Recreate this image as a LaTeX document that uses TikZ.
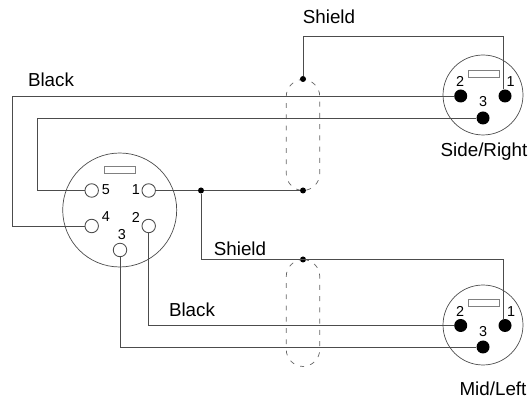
\documentclass[tikz,border=0pt]{standalone}
\usepackage{fontspec}
\setmainfont{Liberation Sans}
\usepackage{tikz}

\tikzset{
	wire/.style={line width=0.5pt, black!70},
	shell/.style={circle, draw=black!70, line width=0.4pt, inner sep=0pt, minimum size=#1},
	key/.style={rectangle, draw=black!50, line width=0.5pt, inner sep=0pt, minimum width=0.62cm, minimum height=0.14cm},
	openpin/.style={circle, draw=black!70, line width=0.5pt, inner sep=0pt, minimum size=0.27cm},
	solidpin/.style={circle, fill=black, inner sep=0pt, minimum size=0.26cm},
	solder/.style={circle, fill=black, inner sep=0pt, minimum size=0.12cm},
	screen/.style={rectangle, rounded corners=0.34cm, draw=black!60, line width=0.4pt, dash pattern=on 2.8pt off 3.6pt, inner sep=0pt, minimum width=0.67cm, minimum height=#1},
	pinlabel/.style={inner sep=0pt, font=\fontsize{8.2}{9}\selectfont},
	caption/.style={inner sep=0pt, font=\fontsize{10.7}{12}\selectfont}
}

\begin{document}
\begin{tikzpicture}[x=0.02cm, y=-0.02cm]
	\useasboundingbox (0, 0) rectangle (530, 404);

	% five pin plug
	\node [shell=2.28cm] (plug) at (119.7, 210) {};
	\node [key] (plugkey) at (119.5, 169.5) {};
	\node [openpin] (pfive) at (91.7, 190.5) {};
	\node [openpin] (pone) at (148.7, 190.5) {};
	\node [openpin] (pfour) at (91.7, 226) {};
	\node [openpin] (ptwo) at (148.7, 226) {};
	\node [openpin] (pthree) at (120, 250) {};
	\node [pinlabel] (lfive) at (106, 190) {5};
	\node [pinlabel] (lone) at (136, 190) {1};
	\node [pinlabel] (lfour) at (106, 217) {4};
	\node [pinlabel] (ltwo) at (136, 217) {2};
	\node [pinlabel] (lthree) at (122, 235) {3};

	% side/right xlr
	\node [shell=1.6cm] (right) at (483, 95) {};
	\node [key] (rightkey) at (483.5, 73.5) {};
	\node [solidpin] (rone) at (505, 96) {};
	\node [solidpin] (rtwo) at (460.7, 96) {};
	\node [solidpin] (rthree) at (483, 118) {};
	\node [pinlabel] (lrone) at (510.5, 82) {1};
	\node [pinlabel] (lrtwo) at (460, 81) {2};
	\node [pinlabel] (lrthree) at (483, 102) {3};

	% mid/left xlr
	\node [shell=1.6cm] (left) at (483, 325) {};
	\node [key] (leftkey) at (483.5, 303) {};
	\node [solidpin] (mone) at (505, 325.5) {};
	\node [solidpin] (mtwo) at (460.7, 325.5) {};
	\node [solidpin] (mthree) at (483, 347) {};
	\node [pinlabel] (lmone) at (511, 312) {1};
	\node [pinlabel] (lmtwo) at (460, 311) {2};
	\node [pinlabel] (lmthree) at (483, 332) {3};

	% cable screens
	\node [screen=2.22cm] (upper) at (303, 135) {};
	\node [screen=2.14cm] (lower) at (303, 313) {};
	\node [solder] (utop) at (303, 79) {};
	\node [solder] (ubot) at (303, 190.5) {};
	\node [solder] (ltop) at (303, 259.5) {};
	\node [solder] (split) at (201, 190.5) {};

	% bends
	\coordinate (bfour) at (12, 226);
	\coordinate (bfourup) at (12, 96);
	\coordinate (bfive) at (37, 190.5);
	\coordinate (bfiveup) at (37, 118);
	\coordinate (bshield) at (303, 36);
	\coordinate (bshieldr) at (503.5, 36);
	\coordinate (bsplit) at (201, 259.5);
	\coordinate (bmid) at (503.5, 259.5);
	\coordinate (btwo) at (148.7, 325.5);
	\coordinate (bthree) at (120, 347);

	\draw [wire] (pfour) -- (bfour) -- (bfourup) -- (rtwo);
	\draw [wire] (pfive) -- (bfive) -- (bfiveup) -- (rthree);
	\draw [wire] (pone) -- (split) -- (ubot);
	\draw [wire] (utop) -- (bshield) -- (bshieldr) -- (bshieldr |- rone.north);
	\draw [wire] (split) -- (bsplit) -- (bmid) -- (bmid |- mone.north);
	\draw [wire] (ptwo) -- (btwo) -- (mtwo);
	\draw [wire] (pthree) -- (bthree) -- (mthree);

	% labels
	\node [caption] (tblack) at (51, 80) {Black};
	\node [caption] (tshield) at (329, 17) {Shield};
	\node [caption] (tside) at (484, 152) {Side/Right};
	\node [caption] (tsplit) at (240, 249) {Shield};
	\node [caption] (tblacklow) at (192, 310) {Black};
	\node [caption] (tmid) at (493, 389) {Mid/Left};
\end{tikzpicture}
\end{document}
